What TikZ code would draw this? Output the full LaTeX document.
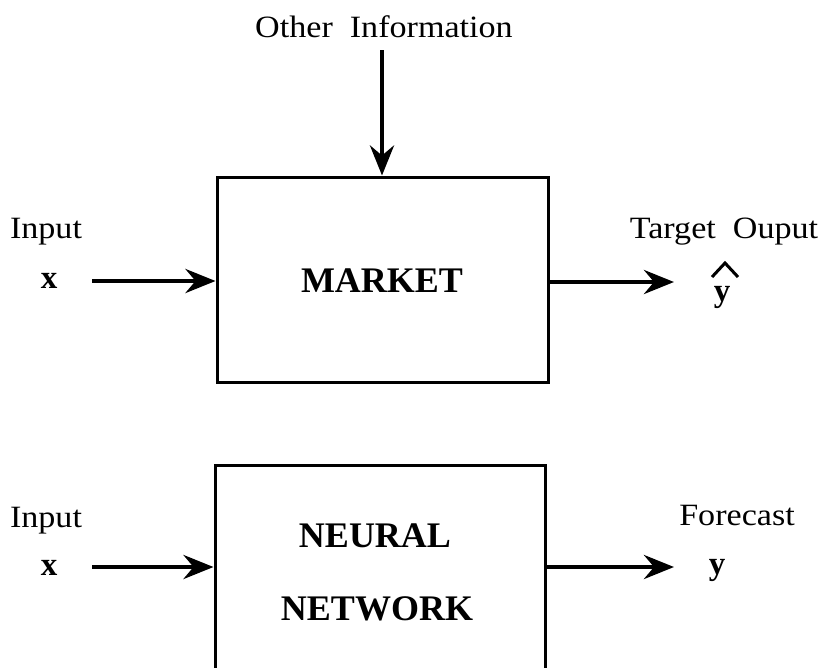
\documentclass[tikz,border=0pt]{standalone}
\usepackage{fontspec}
\setmainfont{Liberation Serif}
\newfontfamily\lblfont[FakeStretch=1.1]{Liberation Serif}
\usetikzlibrary{arrows.meta}
\tikzset{
  lbl/.style={anchor=base, inner sep=0pt, font=\lblfont\fontsize{31}{36}\selectfont},
  var/.style={anchor=base, inner sep=0pt, font=\fontsize{33}{38}\selectfont\bfseries},
  boxtxt/.style={anchor=base, inner sep=0pt, font=\fontsize{36}{42}\selectfont\bfseries},
  blockbox/.style={draw, line width=3pt, inner sep=0pt},
  arr/.style={line width=4.5pt, -{Stealth[length=30pt,width=24pt,inset=10pt]}},
}
\begin{document}
\begin{tikzpicture}[x=1pt,y=-1pt]
\useasboundingbox (0,0) rectangle (818,667);
\clip (0,0) rectangle (818,667);
% top block
\node[blockbox, minimum width=331pt, minimum height=205pt] (market) at (382.5,279.5) {};
\node[boxtxt] (mtxt) at (382,292) {MARKET};
\node[lbl] (other) at (384,37) {Other\ \ Information};
\node[lbl] (in1) at (46,238) {Input};
\node[var] (x1) at (49,288) {x};
\node[lbl] (tgt) at (724,238) {Target\ \ Ouput};
\node[var] (yhat) at (722,301) {y};
\coordinate (s1) at (92,281);
\coordinate (e1) at (674,282);
\coordinate (o1) at (382,50);
\draw[arr] (s1) -- (s1 -| market.west);
\draw[arr] (market.east |- e1) -- (e1);
\draw[arr] (o1) -- (o1 |- market.north);
\draw[line width=3pt] (712,277) -- (725,263) -- (738,277);
% bottom block
\node[blockbox, minimum width=330pt, minimum height=240pt] (nn) at (380,585) {};
\node[boxtxt] (ntxt1) at (375,547) {NEURAL};
\node[boxtxt] (ntxt2) at (377,620) {NETWORK};
\node[lbl] (in2) at (46,527) {Input};
\node[var] (x2) at (49,575) {x};
\node[lbl] (fc) at (737,525) {Forecast};
\node[var] (y2) at (717,574) {y};
\coordinate (s2) at (92,567);
\coordinate (e2) at (674,567);
\draw[arr] (s2) -- (s2 -| nn.west);
\draw[arr] (nn.east |- e2) -- (e2);
\end{tikzpicture}
\end{document}
